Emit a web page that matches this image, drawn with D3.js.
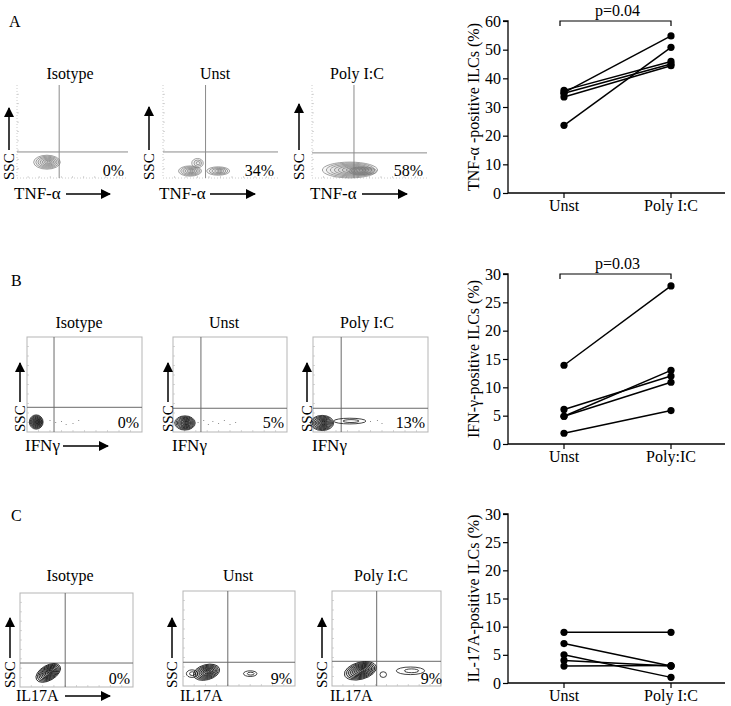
<!DOCTYPE html>
<html><head><meta charset="utf-8">
<script src="https://cdn.jsdelivr.net/npm/d3@7"></script>
<style>body{margin:0;background:#fff}svg{display:block}text{font-family:"Liberation Serif",serif;fill:#000}</style>
</head><body><svg id="c" width="731" height="706" font-family="Liberation Serif, serif"></svg>
<script>
// ---------------- DATA ----------------
const panelLetters = ["A", "B", "C"];
const flowTitles = ["Isotype", "Unst", "Poly I:C"];
const markerNames = ["TNF-α", "IFNγ", "IL17A"];
const percentsA = ["0%", "34%", "58%"];
const percentsB = ["0%", "5%", "13%"];
const percentsC = ["0%", "9%", "9%"];
// gates: [vertical gate (fraction of x), horizontal gate (fraction of y)]
const gatesA = [[0.38, 0.28], [0.37, 0.28], [0.365, 0.27]];
const gatesB = [[0.235, 0.26], [0.245, 0.25], [0.245, 0.25]];
const gatesC = [[0.40, 0.255], [0.40, 0.25], [0.41, 0.26]];
// contour blobs: [cx, cy, rx, ry, angle, levels] in plot fraction units
const blobsA = [
  [[0.27, 0.17, 0.12, 0.075, 0, 7]],
  [[0.235, 0.075, 0.10, 0.055, 0, 6], [0.48, 0.075, 0.10, 0.045, 0, 5], [0.30, 0.16, 0.05, 0.05, 0, 3]],
  [[0.33, 0.086, 0.24, 0.085, 0, 8], [0.44, 0.075, 0.12, 0.045, 0, 6]]
];
const blobsB = [
  [[0.08, 0.105, 0.06, 0.075, 0, 9]],
  [[0.105, 0.095, 0.09, 0.075, 0, 9]],
  [[0.08, 0.095, 0.10, 0.08, 0, 9], [0.32, 0.115, 0.14, 0.03, 0, 2]]
];
const blobsC = [
  [[0.25, 0.15, 0.12, 0.08, -30, 9]],
  [[0.21, 0.145, 0.12, 0.08, -15, 8], [0.08, 0.13, 0.05, 0.04, 0, 2], [0.60, 0.13, 0.06, 0.03, 0, 2]],
  [[0.26, 0.16, 0.15, 0.09, -15, 9], [0.47, 0.12, 0.03, 0.03, 0, 1], [0.72, 0.16, 0.13, 0.04, 0, 2]]
];
// scattered events [x, y] fraction units
const dotsB = [
  [[0.20, 0.12], [0.25, 0.10], [0.30, 0.11], [0.34, 0.08], [0.40, 0.09], [0.45, 0.12]],
  [[0.22, 0.10], [0.27, 0.12], [0.31, 0.08], [0.35, 0.11], [0.40, 0.09], [0.45, 0.12], [0.50, 0.08], [0.55, 0.10]],
  [[0.50, 0.11], [0.56, 0.12], [0.60, 0.09]]
];

// paired line charts
const groupsA = ["Unst", "Poly I:C"];
const groupsB = ["Unst", "Poly:IC"];
const groupsC = ["Unst", "Poly I:C"];
const tnfUnst = [23.6, 35.0, 33.5, 34.8, 35.8];
const tnfPoly = [50.8, 54.8, 44.4, 45.0, 45.9];
const ifnUnst = [13.9, 1.9, 4.9, 6.1, 4.9];
const ifnPoly = [27.9, 5.9, 10.9, 12.0, 13.0];
const il17Unst = [9, 7, 5, 4, 3];
const il17Poly = [9, 3, 1, 3, 3.1];
const yTicksA = [0, 10, 20, 30, 40, 50, 60];
const yTicksBC = [0, 5, 10, 15, 20, 25, 30];
const yLabels = ["TNF-α -positive ILCs (%)", "IFN-γ-positive ILCs (%)", "IL-17A-positive ILCs (%)"];
const pValues = ["p=0.04", "p=0.03", null];

// ---------------- DRAW ----------------
const svg = d3.select("#c");
svg.append("rect").attr("width", 731).attr("height", 706).attr("fill", "#fff");

const defs = svg.append("defs");
defs.append("marker").attr("id", "ah").attr("viewBox", "0 0 10 10").attr("refX", 9).attr("refY", 5)
  .attr("markerWidth", 11).attr("markerHeight", 10).attr("markerUnits", "userSpaceOnUse").attr("orient", "auto")
  .append("path").attr("d", "M0,0L10,5L0,10z").attr("fill", "#000");

// panel letters
[[9, 27], [11, 286], [11, 521]].forEach((p, i) =>
  svg.append("text").attr("x", p[0]).attr("y", p[1]).attr("font-size", 16).text(panelLetters[i]));

function flowPlot(cfg) {
  const g = svg.append("g");
  const [x0, y0, x1, y1] = cfg.box;
  const x = d3.scaleLinear().domain([0, 1]).range([x0, x1]);
  const y = d3.scaleLinear().domain([0, 1]).range([y1, y0]);
  if (cfg.framed) {
    g.append("rect").attr("x", x0).attr("y", y0).attr("width", x1 - x0).attr("height", y1 - y0)
      .attr("fill", "none").attr("stroke", "#b5b5b5").attr("stroke-width", 1);
  } else {
    g.append("line").attr("x1", x0).attr("x2", x0).attr("y1", y0).attr("y2", y1)
      .attr("stroke", "#ccc").attr("stroke-dasharray", "1,2");
    g.append("line").attr("x1", x0).attr("x2", x1).attr("y1", y1).attr("y2", y1)
      .attr("stroke", "#ccc").attr("stroke-dasharray", "1,2");
  }
  d3.range(0.1, 1, 0.1).forEach(t => {
    g.append("line").attr("x1", x0).attr("x2", x0 + 2).attr("y1", y(t)).attr("y2", y(t)).attr("stroke", "#bbb").attr("stroke-width", 0.6);
    g.append("line").attr("x1", x(t)).attr("x2", x(t)).attr("y1", y1).attr("y2", y1 - 2).attr("stroke", "#bbb").attr("stroke-width", 0.6);
  });
  g.append("line").attr("x1", x(cfg.gate[0])).attr("x2", x(cfg.gate[0])).attr("y1", y0).attr("y2", y1)
    .attr("stroke", cfg.gateColor).attr("stroke-width", 1);
  g.append("line").attr("x1", x0).attr("x2", x1).attr("y1", y(cfg.gate[1])).attr("y2", y(cfg.gate[1]))
    .attr("stroke", cfg.gateColor).attr("stroke-width", 1);
  (cfg.dots || []).forEach(d => g.append("circle").attr("cx", x(d[0])).attr("cy", y(d[1])).attr("r", 0.5).attr("fill", "#666"));
  cfg.blobs.forEach(b => {
    const [cx, cy, rx, ry, ang, n] = b;
    const px = x(cx), py = y(cy);
    const prx = x(rx) - x(0), pry = y(0) - y(ry);
    for (let k = n; k >= 1; k--) {
      const f = k / n;
      g.append("ellipse").attr("cx", px + (1 - f) * prx * 0.15).attr("cy", py)
        .attr("rx", Math.max(prx * f, 0.8)).attr("ry", Math.max(pry * f, 0.6))
        .attr("transform", `rotate(${ang},${px},${py})`)
        .attr("fill", cfg.color).attr("fill-opacity", n > 2 && k > 1 ? 0.07 : 0)
        .attr("stroke", cfg.color).attr("stroke-width", cfg.sw);
    }
  });
  g.append("text").attr("x", cfg.titleX).attr("y", cfg.titleY).attr("text-anchor", "middle").attr("font-size", 16).text(cfg.title);
  g.append("text").attr("x", cfg.pct[0]).attr("y", cfg.pct[1]).attr("text-anchor", "end").attr("font-size", 16).text(cfg.pctText);
  const [sx, sy, stop] = cfg.ssc;
  g.append("text").attr("transform", `translate(${sx},${sy}) rotate(-90)`).attr("font-size", 15).text("SSC");
  g.append("line").attr("x1", sx - 5).attr("x2", sx - 5).attr("y1", sy - 30).attr("y2", stop)
    .attr("stroke", "#000").attr("stroke-width", 1.5).attr("marker-end", "url(#ah)");
  g.append("text").attr("x", cfg.mk[0]).attr("y", cfg.mk[1]).attr("font-size", cfg.mkSize || 17).text(cfg.marker);
  if (cfg.mkArrow) {
    g.append("line").attr("x1", cfg.mkArrow[0]).attr("x2", cfg.mkArrow[1]).attr("y1", cfg.mk[1] - 5).attr("y2", cfg.mk[1] - 5)
      .attr("stroke", "#000").attr("stroke-width", 1.5).attr("marker-end", "url(#ah)");
  }
}

// Row A
const boxesA = [[17, 85, 128, 178], [163, 85, 278, 178], [312, 85, 427, 178]];
const rowA = {titleXs: [70, 215, 357], sscX: [14, 154, 304], sscTop: [108, 107, 104], mkX: [14, 159, 310], arrows: [[66, 110], [210, 255], [362, 407]]};
boxesA.forEach((bx, i) => flowPlot({
  box: bx, framed: false, gate: gatesA[i], gateColor: "#8a8a8a", blobs: blobsA[i], color: "#7a7a7a", sw: 0.7,
  title: flowTitles[i], titleX: rowA.titleXs[i], titleY: 79,
  pctText: percentsA[i], pct: [bx[2] - 4, 176],
  ssc: [rowA.sscX[i], 180, rowA.sscTop[i]], marker: markerNames[0], mk: [rowA.mkX[i], 199], mkArrow: rowA.arrows[i]
}));

// Row B
const boxesB = [[27, 337, 142, 432], [173, 337, 287, 432], [313, 337, 428, 432]];
const rowB = {titleXs: [79, 224, 367], sscX: [25, 173, 312], mkX: [25, 172, 312]};
boxesB.forEach((bx, i) => flowPlot({
  box: bx, framed: true, gate: gatesB[i], gateColor: "#6a6a6a", blobs: blobsB[i], color: "#111", sw: 0.8, dots: dotsB[i],
  title: flowTitles[i], titleX: rowB.titleXs[i], titleY: 328,
  pctText: percentsB[i], pct: [bx[2] - 3, 428],
  ssc: [rowB.sscX[i], 432, 363], marker: markerNames[1], mk: [rowB.mkX[i], 451], mkArrow: i === 0 ? [63, 108] : null
}));

// Row C
const boxesC = [[20, 593, 133, 687], [183, 591, 295, 686], [332, 591, 441, 686]];
const rowC = {titleXs: [70, 238, 381], sscX: [15, 177, 327], mkX: [16, 180, 330]};
boxesC.forEach((bx, i) => flowPlot({
  box: bx, framed: true, gate: gatesC[i], gateColor: "#6a6a6a", blobs: blobsC[i], color: "#111", sw: 0.8,
  title: flowTitles[i], titleX: rowC.titleXs[i], titleY: 581,
  pctText: percentsC[i], pct: [bx[2] - (i === 2 ? -1 : 3), 684],
  ssc: [rowC.sscX[i], 688, 618], marker: markerNames[2], mk: [rowC.mkX[i], 701], mkSize: 16, mkArrow: i === 0 ? [65, 110] : null
}));

// ---------- paired line charts ----------
function pairedChart(cfg) {
  const g = svg.append("g");
  const x = d3.scalePoint().domain(cfg.groups).range([564, 671]);
  const y = d3.scaleLinear().domain(cfg.domain).range([cfg.y0, cfg.y1]);
  const axX = 508, axR = 725;
  g.append("g").attr("transform", `translate(${axX},0)`)
    .call(d3.axisLeft(y).tickValues(cfg.ticks).tickSize(5).tickPadding(2))
    .call(a => a.select(".domain").attr("stroke-width", 1.3).attr("d", `M-5,${cfg.y1}H0V${cfg.y0}`))
    .call(a => a.selectAll("line").attr("stroke-width", 1.2))
    .call(a => a.selectAll("text").attr("font-size", 16).attr("font-family", "Liberation Serif, serif"));
  g.append("line").attr("x1", axX).attr("x2", axR).attr("y1", cfg.y0).attr("y2", cfg.y0).attr("stroke", "#000").attr("stroke-width", 1.3);
  cfg.groups.forEach(gr => {
    g.append("line").attr("x1", x(gr)).attr("x2", x(gr)).attr("y1", cfg.y0).attr("y2", cfg.y0 + 5).attr("stroke", "#000").attr("stroke-width", 1.2);
    g.append("text").attr("x", x(gr)).attr("y", cfg.y0 + 18).attr("text-anchor", "middle").attr("font-size", 16).text(gr);
  });
  g.append("text").attr("transform", `translate(479,${(cfg.y0 + cfg.y1) / 2}) rotate(-90)`)
    .attr("text-anchor", "middle").attr("font-size", 16).text(cfg.label);
  cfg.a.forEach((v, i) => {
    g.append("line").attr("x1", x(cfg.groups[0])).attr("y1", y(v)).attr("x2", x(cfg.groups[1])).attr("y2", y(cfg.b[i]))
      .attr("stroke", "#000").attr("stroke-width", 1.5);
  });
  cfg.a.forEach((v, i) => {
    g.append("circle").attr("cx", x(cfg.groups[0])).attr("cy", y(v)).attr("r", 3.6).attr("fill", "#000");
    g.append("circle").attr("cx", x(cfg.groups[1])).attr("cy", y(cfg.b[i])).attr("r", 3.6).attr("fill", "#000");
  });
  if (cfg.p) {
    const by = cfg.y1;
    g.append("path").attr("d", `M${x(cfg.groups[0]) - 4},${by + 5}V${by}H${x(cfg.groups[1])}V${by + 5}`)
      .attr("fill", "none").attr("stroke", "#000").attr("stroke-width", 1.2);
    g.append("text").attr("x", (x(cfg.groups[0]) + x(cfg.groups[1])) / 2).attr("y", by - 5)
      .attr("text-anchor", "middle").attr("font-size", 16).text(cfg.p);
  }
}
pairedChart({groups: groupsA, domain: [0, 60], y0: 193, y1: 21, ticks: yTicksA, label: yLabels[0], a: tnfUnst, b: tnfPoly, p: pValues[0]});
pairedChart({groups: groupsB, domain: [0, 30], y0: 444, y1: 274, ticks: yTicksBC, label: yLabels[1], a: ifnUnst, b: ifnPoly, p: pValues[1]});
pairedChart({groups: groupsC, domain: [0, 30], y0: 683, y1: 514, ticks: yTicksBC, label: yLabels[2], a: il17Unst, b: il17Poly, p: pValues[2]});
</script></body></html>
